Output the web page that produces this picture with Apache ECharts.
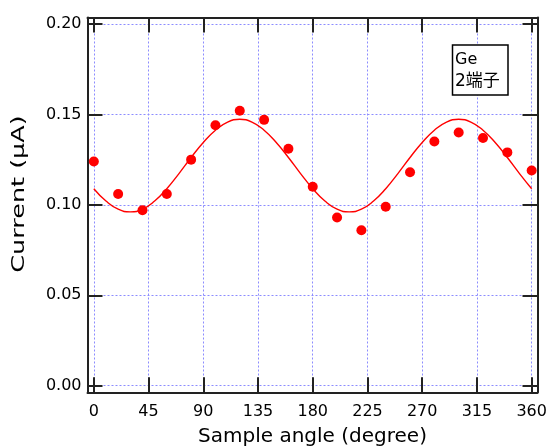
<!DOCTYPE html>
<html>
<head>
<meta charset="utf-8">
<title>Ge 2端子</title>
<script src="https://cdn.jsdelivr.net/npm/echarts@6.0.0/dist/echarts.min.js"></script>
<style>
html, body { margin: 0; padding: 0; background: #fff; }
#chart { width: 558px; height: 446px; }
</style>
</head>
<body>
<div id="chart"></div>
<script>
// measured points, every 20 degrees
var angles = [0, 20, 40, 60, 80, 100, 120, 140, 160, 180, 200, 220, 240, 260, 280, 300, 320, 340, 360];
var current = [0.124, 0.106, 0.097, 0.106, 0.125, 0.144, 0.152, 0.147, 0.131, 0.110, 0.093, 0.086, 0.099, 0.118, 0.135, 0.140, 0.137, 0.129, 0.119];

// fitted curve, every 10 degrees
var fitAngles = [0, 10, 20, 30, 40, 50, 60, 70, 80, 90, 100, 110, 120, 130, 140, 150, 160, 170, 180,
                 190, 200, 210, 220, 230, 240, 250, 260, 270, 280, 290, 300, 310, 320, 330, 340, 350, 360];
var fitCurrent = [0.1089, 0.1021, 0.0976, 0.0961, 0.0976, 0.1021, 0.1089, 0.1173, 0.1262, 0.1345, 0.1413, 0.1458, 0.1473,
                  0.1458, 0.1413, 0.1345, 0.1262, 0.1173, 0.1089, 0.1021, 0.0976, 0.0961, 0.0976, 0.1021, 0.1089,
                  0.1173, 0.1262, 0.1345, 0.1413, 0.1458, 0.1473, 0.1458, 0.1413, 0.1345, 0.1262, 0.1173, 0.1089];

var xTicks = [0, 45, 90, 135, 180, 225, 270, 315, 360];
var yTicks = [0, 0.05, 0.10, 0.15, 0.20];

var frameLine = { color: '#222', width: 2 };
var gridLine = { color: '#8c8cff', width: 1, type: [2, 2] };
var labelFont = { fontFamily: 'DejaVu Sans', fontSize: 16, color: '#000' };

function pairs(xs, ys) {
  return xs.map(function (x, i) { return [x, ys[i]]; });
}

function frameAxis(pos, ticks, extra) {
  var ax = {
    type: 'value',
    position: pos,
    axisLine: { show: true, onZero: false, lineStyle: frameLine },
    axisTick: { show: true, inside: true, length: 15, customValues: ticks, lineStyle: frameLine },
    axisLabel: { show: false, customValues: ticks },
    splitLine: { show: false }
  };
  return Object.assign(ax, extra);
}

var chart = echarts.init(document.getElementById('chart'));

chart.setOption({
  animation: false,
  grid: { left: 87.5, top: 17.5, right: 20.5, bottom: 53.7, outerBoundsMode: 'none' },
  xAxis: [
    frameAxis('bottom', xTicks, {
      min: -5.2, max: 364.8,
      name: 'Sample angle (degree)',
      nameLocation: 'middle',
      nameGap: 34,
      nameTextStyle: { fontFamily: 'DejaVu Sans', fontSize: 20, color: '#000' },
      axisLabel: Object.assign({ show: true, customValues: xTicks, margin: 12 }, labelFont),
      splitLine: { show: true, lineStyle: gridLine }
    }),
    frameAxis('top', xTicks, { min: -5.2, max: 364.8 })
  ],
  yAxis: [
    frameAxis('left', yTicks, {
      min: -0.00365, max: 0.2036,
      axisLabel: Object.assign({
        show: true, customValues: yTicks, margin: 6,
        formatter: function (v) { return v.toFixed(2); }
      }, labelFont),
      splitLine: { show: true, lineStyle: gridLine }
    }),
    frameAxis('right', yTicks, { min: -0.00365, max: 0.2036 })
  ],
  graphic: [
    {
      type: 'text',
      x: 20, y: 194,
      rotation: Math.PI / 2,
      scaleX: 1.5,
      style: {
        text: 'Current (μA)',
        font: '17px "DejaVu Sans"',
        fill: '#000',
        align: 'center',
        verticalAlign: 'middle'
      }
    },
    {
      type: 'rect',
      shape: { x: 452.5, y: 45, width: 55.5, height: 50 },
      style: { fill: '#fff', stroke: '#000', lineWidth: 1.5 },
      z: 10
    },
    {
      type: 'text',
      x: 455, y: 60,
      style: { text: 'Ge', font: '16px "DejaVu Sans"', fill: '#000', verticalAlign: 'middle' },
      z: 11
    },
    {
      type: 'text',
      x: 455, y: 82,
      style: { text: '2端子', font: '17px "DejaVu Sans", "Noto Sans CJK JP"', fill: '#000', verticalAlign: 'middle' },
      z: 11
    }
  ],
  series: [
    {
      name: 'fit',
      type: 'line',
      data: pairs(fitAngles, fitCurrent),
      smooth: true,
      showSymbol: false,
      symbol: 'none',
      lineStyle: { color: '#ff0000', width: 1.4 }
    },
    {
      name: 'Current',
      type: 'scatter',
      data: pairs(angles, current),
      symbol: 'circle',
      symbolSize: 10,
      itemStyle: { color: '#ff0000', opacity: 1 },
      z: 3
    }
  ]
});
</script>
</body>
</html>
